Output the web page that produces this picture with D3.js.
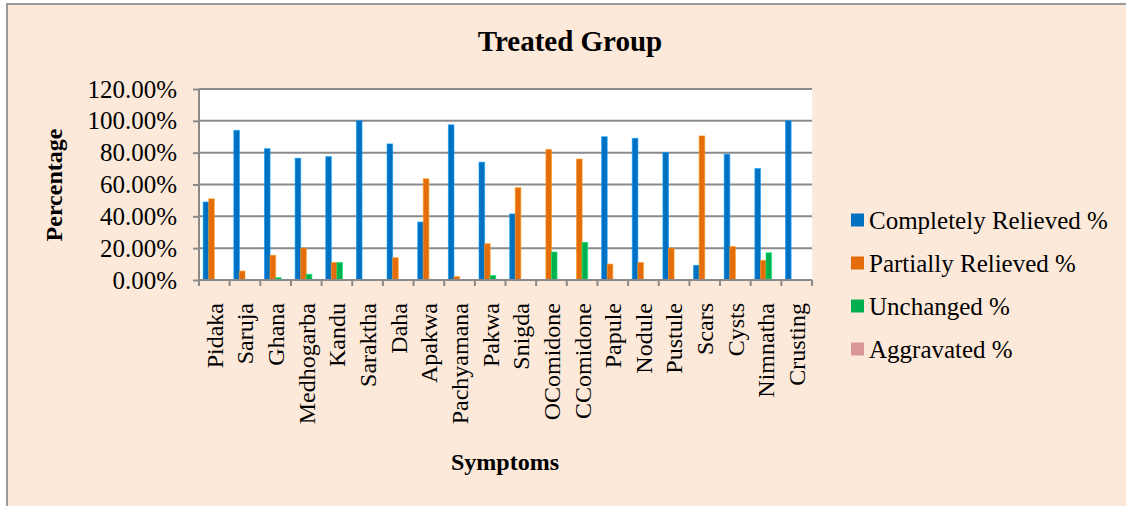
<!DOCTYPE html>
<html>
<head>
<meta charset="utf-8">
<style>
  body { margin: 0; background: #ffffff; }
  svg text { font-family: "Liberation Serif", "Times New Roman", serif; fill: #000; }
  .grid line { stroke: #8a8a8a; stroke-width: 2; }
  .axis path, .axis line { stroke: #8a8a8a; stroke-width: 2; }
</style>
<script src="https://d3js.org/d3.v7.min.js"></script>
</head>
<body>
<script>
// chart values (fractions, shown as percent)
var categories = ["Pidaka", "Saruja", "Ghana", "Medhogarba", "Kandu", "Saraktha", "Daha", "Apakwa",
  "Pachyamana", "Pakwa", "Snigda", "OComidone", "CComidone", "Papule", "Nodule", "Pustule",
  "Scars", "Cysts", "Nimnatha", "Crusting"];
var completelyRelieved = [0.49, 0.94, 0.825, 0.765, 0.775, 1.00, 0.855, 0.364, 0.975, 0.74, 0.415,
  0, 0, 0.90, 0.89, 0.80, 0.092, 0.79, 0.70, 1.00];
var partiallyRelieved = [0.51, 0.056, 0.155, 0.20, 0.11, 0, 0.14, 0.636, 0.021, 0.228, 0.58,
  0.82, 0.76, 0.10, 0.11, 0.20, 0.905, 0.21, 0.123, 0];
var unchanged = [0, 0, 0.015, 0.036, 0.11, 0, 0, 0, 0, 0.029, 0,
  0.176, 0.236, 0, 0, 0, 0, 0, 0.171, 0];
var aggravated = [0, 0, 0, 0, 0, 0, 0, 0, 0, 0, 0, 0, 0, 0, 0, 0, 0, 0, 0, 0];
var seriesNames = ["Completely Relieved %", "Partially Relieved %", "Unchanged %", "Aggravated %"];
var seriesColors = ["#0070c0", "#e46c0a", "#00b050", "#d99694"];
var yTicks = [0, 0.2, 0.4, 0.6, 0.8, 1.0, 1.2];

var width = 1126, height = 506;
var plot = { left: 199, right: 812, top: 89, bottom: 280 };

var seriesData = [completelyRelieved, partiallyRelieved, unchanged, aggravated];

var svg = d3.select("body").append("svg")
  .attr("width", width)
  .attr("height", height);

// chart area background + border (left and top edges visible)
svg.append("rect")
  .attr("x", 7).attr("y", 4)
  .attr("width", width).attr("height", height)
  .attr("fill", "#fde9d9");
svg.append("line").attr("x1", 7).attr("x2", 7).attr("y1", 3).attr("y2", height)
  .attr("stroke", "#999").attr("stroke-width", 2);
svg.append("line").attr("x1", 6).attr("x2", width).attr("y1", 4).attr("y2", 4)
  .attr("stroke", "#999").attr("stroke-width", 2);

// plot area
svg.append("rect")
  .attr("x", plot.left).attr("y", plot.top)
  .attr("width", plot.right - plot.left).attr("height", plot.bottom - plot.top)
  .attr("fill", "#ffffff");

var x0 = d3.scaleBand()
  .domain(categories)
  .range([plot.left, plot.right])
  .padding(0);

var x1 = d3.scaleBand()
  .domain(d3.range(seriesNames.length))
  .range([0, x0.bandwidth()])
  .paddingInner(0)
  .paddingOuter(0.75);

var y = d3.scaleLinear()
  .domain([0, 1.2])
  .range([plot.bottom, plot.top]);

// gridlines
svg.append("g")
  .attr("class", "grid")
  .selectAll("line")
  .data(yTicks.filter(function(d) { return d > 0; }))
  .enter()
  .append("line")
    .attr("x1", plot.left).attr("x2", plot.right)
    .attr("y1", function(d) { return y(d); })
    .attr("y2", function(d) { return y(d); });

// bars
var groups = svg.append("g")
  .selectAll("g")
  .data(seriesData)
  .enter()
  .append("g")
    .attr("fill", function(d, i) { return seriesColors[i]; })
    .attr("stroke", function(d, i) { return d3.color(seriesColors[i]).brighter(0.9); })
    .attr("stroke-width", 1)
    .attr("stroke-opacity", 0.6);

groups.each(function(vals, si) {
  d3.select(this).selectAll("rect")
    .data(vals)
    .enter()
    .append("rect")
      .attr("x", function(d, i) { return x0(categories[i]) + x1(si); })
      .attr("y", function(d) { return y(d); })
      .attr("width", x1.bandwidth())
      .attr("height", function(d) { return y(0) - y(d); })
      .attr("display", function(d) { return d > 0 ? null : "none"; });
});

// y axis
var yAxis = d3.axisLeft(y)
  .tickValues(yTicks)
  .tickFormat(d3.format(".2%"))
  .tickSize(6)
  .tickPadding(16);

svg.append("g")
  .attr("class", "axis y")
  .attr("transform", "translate(" + plot.left + ",0)")
  .call(yAxis)
  .call(function(g) {
    g.select(".domain").attr("d", "M0," + plot.top + "V" + plot.bottom);
    g.selectAll("text").style("font-size", "25px");
  });

// x axis with ticks at category boundaries
var xAxis = d3.axisBottom(x0).tickSize(0).tickFormat("");
var xg = svg.append("g")
  .attr("class", "axis x")
  .attr("transform", "translate(0," + plot.bottom + ")")
  .call(xAxis);
xg.select(".domain").attr("d", "M" + plot.left + ",0H" + plot.right);
xg.selectAll(".boundary")
  .data(categories.concat(["_end"]))
  .enter()
  .append("line")
    .attr("class", "boundary")
    .attr("x1", function(d, i) { return plot.left + i * x0.step(); })
    .attr("x2", function(d, i) { return plot.left + i * x0.step(); })
    .attr("y1", 0).attr("y2", 6);

// category labels, rotated
svg.append("g")
  .selectAll("text")
  .data(categories)
  .enter()
  .append("text")
    .attr("transform", function(d) {
      return "translate(" + (x0(d) + x0.bandwidth() / 2) + ",303) rotate(-90)";
    })
    .attr("text-anchor", "end")
    .attr("dy", "0.35em")
    .style("font-size", "24px")
    .text(function(d) { return d; });

// titles
svg.append("text")
  .attr("x", 570).attr("y", 51)
  .attr("text-anchor", "middle")
  .style("font-size", "29px")
  .style("font-weight", "bold")
  .text("Treated Group");

svg.append("text")
  .attr("transform", "translate(62,185) rotate(-90)")
  .attr("text-anchor", "middle")
  .style("font-size", "24px")
  .style("font-weight", "bold")
  .text("Percentage");

svg.append("text")
  .attr("x", 505).attr("y", 470)
  .attr("text-anchor", "middle")
  .style("font-size", "24px")
  .style("font-weight", "bold")
  .text("Symptoms");

// legend
var legend = svg.append("g")
  .selectAll("g")
  .data(seriesNames)
  .enter()
  .append("g")
    .attr("transform", function(d, i) { return "translate(851," + (220 + i * 43) + ")"; });

legend.append("rect")
  .attr("x", 0).attr("y", -6.5)
  .attr("width", 13).attr("height", 13)
  .attr("fill", function(d, i) { return seriesColors[i]; });

legend.append("text")
  .attr("x", 18)
  .attr("dy", "0.35em")
  .style("font-size", "25px")
  .text(function(d) { return d; });
</script>
</body>
</html>
